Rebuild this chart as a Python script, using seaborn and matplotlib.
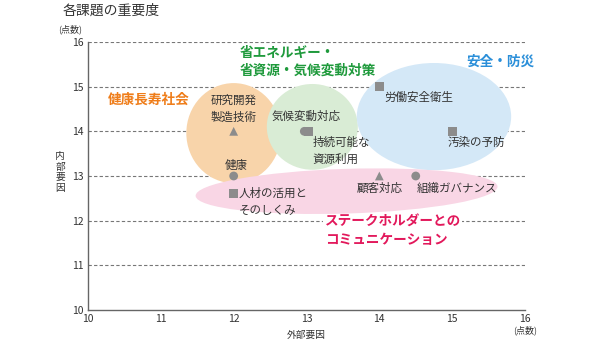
import matplotlib
matplotlib.use("Agg")
import matplotlib.pyplot as plt
from matplotlib.patches import Ellipse
import seaborn as sns
import pandas as pd

# ---- data ----
issues = ["研究開発\n製造技術", "気候変動対応", "持続可能な\n資源利用", "労働安全衛生",
          "汚染の予防", "健康", "人材の活用と\nそのしくみ", "顧客対応", "組織ガバナンス"]
external = [12.0, 12.97, 13.03, 14.0, 15.0, 12.0, 12.0, 14.0, 14.5]
internal = [14.0, 14.0, 14.0, 15.0, 14.0, 13.0, 12.6, 13.0, 13.0]
shapes = ["tri", "circ", "sq", "sq", "sq", "circ", "sq", "tri", "circ"]
ticks = [10, 11, 12, 13, 14, 15, 16]
groups = ["健康長寿社会", "省エネルギー・\n省資源・気候変動対策", "安全・防災",
          "ステークホルダーとの\nコミュニケーション"]

df = pd.DataFrame({"x": external, "y": internal, "shape": shapes, "label": issues})

sns.set_style("white")
plt.rcParams["font.family"] = ["Noto Sans CJK JP", "DejaVu Sans"]

fig = plt.figure(figsize=(6, 3.4), dpi=100)
ax = fig.add_axes([88/600, 1-310/340, (525-88)/600, (310-42)/340])
ax.set_xlim(10, 16)
ax.set_ylim(10, 16)

# ellipses
ells = [((12.0, 13.96), 1.3, 2.24, 0, "#f8d4aa"),
        ((13.08, 14.1), 1.25, 1.92, 0, "#d9ecd5"),
        ((14.75, 14.33), 2.12, 2.4, 0, "#d4e8f7"),
        ((13.55, 12.66), 4.15, 1.0, 3, "#f9d6e5")]
for (c, w, h, a, col) in ells:
    ax.add_patch(Ellipse(c, w, h, angle=a, facecolor=col, edgecolor="none", zorder=1))

# grid lines
for t in ticks[1:]:
    ax.axhline(t, color="#777777", lw=0.8, ls=(0, (3, 2)), zorder=0.5)

sns.scatterplot(data=df, x="x", y="y", style="shape",
                markers={"tri": "^", "circ": "o", "sq": "s"},
                color="#8c8c8c", s=40, edgecolor="none", legend=False, ax=ax, zorder=3)

fs = 8.3
tc = "#333333"
ax.text(12.0, 14.5, issues[0], ha="center", va="center", fontsize=fs, color=tc, linespacing=1.4, zorder=4)
ax.text(13.0, 14.34, issues[1], ha="center", va="center", fontsize=fs, color=tc, zorder=4)
ax.text(13.08, 13.57, issues[2], ha="left", va="center", fontsize=fs, color=tc, linespacing=1.4, zorder=4)
ax.text(14.07, 14.77, issues[3], ha="left", va="center", fontsize=fs, color=tc, zorder=4)
ax.text(14.93, 13.74, issues[4], ha="left", va="center", fontsize=fs, color=tc, zorder=4)
ax.text(12.03, 13.24, issues[5], ha="center", va="center", fontsize=fs, color=tc, zorder=4)
ax.text(12.07, 12.43, issues[6], ha="left", va="center", fontsize=fs, color=tc, linespacing=1.4, zorder=4)
ax.text(14.0, 12.73, issues[7], ha="center", va="center", fontsize=fs, color=tc, zorder=4)
ax.text(14.52, 12.73, issues[8], ha="left", va="center", fontsize=fs, color=tc, zorder=4)

gfs = 9.8
ax.text(10.27, 14.7, groups[0], ha="left", va="center", fontsize=gfs, color="#ef7d1a",
        fontweight="bold", zorder=4)
ax.text(12.08, 15.55, groups[1], ha="left", va="center", fontsize=gfs, color="#1f9a3c",
        fontweight="bold", linespacing=1.35, zorder=4)
ax.text(15.2, 15.55, groups[2], ha="left", va="center", fontsize=gfs, color="#2b8fd9",
        fontweight="bold", zorder=4)
ax.text(13.25, 11.77, groups[3], ha="left", va="center", fontsize=gfs, color="#e2185b",
        fontweight="bold", linespacing=1.35, zorder=4,
        bbox=dict(facecolor="white", edgecolor="none", pad=1))

ax.set_xticks(ticks)
ax.set_yticks(ticks)
ax.tick_params(axis="both", length=0, labelsize=7.5, colors="#333333", pad=3)
for s in ["top", "right"]:
    ax.spines[s].set_visible(False)
for s in ["left", "bottom"]:
    ax.spines[s].set_color("#666666")
    ax.spines[s].set_linewidth(1.0)
ax.set_xlabel("外部要因", fontsize=7, color="#333333", labelpad=4)
ax.set_ylabel("")
fig.text(60/600, 1-172/340, "内\n部\n要\n因", fontsize=7, color="#333333",
         va="center", ha="center", linespacing=1.05)

fig.text(63/600, 1-11/340, "各課題の重要度", fontsize=10, color="#333333", va="center", ha="left")
fig.text(58/600, 1-29/340, "(点数)", fontsize=6.5, color="#333333", va="center", ha="left")
fig.text(525/600, 1-330/340, "(点数)", fontsize=6.5, color="#333333", va="center", ha="center")

fig.savefig("out.png", dpi=100)
